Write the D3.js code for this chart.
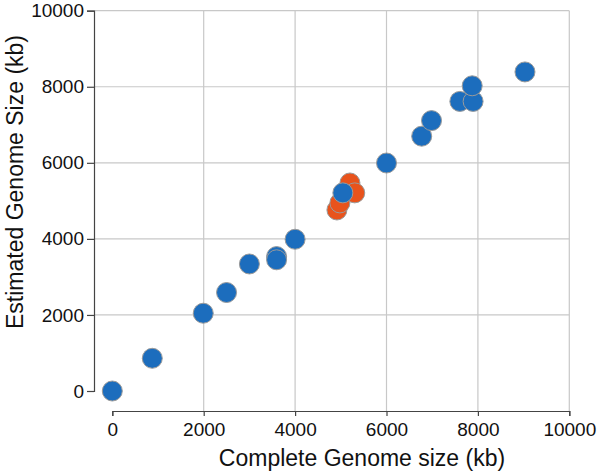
<!DOCTYPE html>
<html>
<head>
<meta charset="utf-8">
<script src="https://cdn.jsdelivr.net/npm/d3@7"></script>
<style>
  body { margin: 0; background: #fff; }
  svg text { font-family: "Liberation Sans", Arial, Helvetica, sans-serif; fill: #111; }
</style>
</head>
<body>
<div id="scatter"></div>
<script>
// Complete genome size vs estimated genome size (kb)
var blueComplete  = [0, 875, 1990, 2500, 3000, 3595, 3595, 4000, 6000, 6770, 6985, 7605, 7895, 7875, 9030, 5045];
var blueEstimated = [0, 860, 2045, 2590, 3340, 3535, 3450, 3990, 5995, 6700, 7110, 7615, 7615, 8025, 8390, 5210];

var orangeComplete  = [4915, 4980, 5200, 5305];
var orangeEstimated = [4760, 4945, 5470, 5210];

var xTicks = [0, 2000, 4000, 6000, 8000, 10000];
var yTicks = [0, 2000, 4000, 6000, 8000, 10000];

var svgWidth = 600;
var svgHeight = 472;

var svg = d3.select("#scatter")
  .append("svg")
  .attr("width", svgWidth)
  .attr("height", svgHeight);

var xScale = d3.scaleLinear()
  .domain([0, 10000])
  .range([112.3, 569.3]);

var yScale = d3.scaleLinear()
  .domain([0, 10000])
  .range([391, 10.7]);

// gridlines (no line at zero)
var grid = svg.append("g");
grid.selectAll("line.vgrid")
  .data(xTicks.filter(d => d > 0))
  .enter()
  .append("line")
  .attr("x1", d => xScale(d))
  .attr("x2", d => xScale(d))
  .attr("y1", yScale(10000))
  .attr("y2", 411)
  .attr("stroke", "#c8c8c8")
  .attr("stroke-width", 1.2);

grid.selectAll("line.hgrid")
  .data(yTicks.filter(d => d > 0))
  .enter()
  .append("line")
  .attr("x1", 94)
  .attr("x2", xScale(10000))
  .attr("y1", d => yScale(d))
  .attr("y2", d => yScale(d))
  .attr("stroke", "#c8c8c8")
  .attr("stroke-width", 1.2);

// axes
var xAxis = d3.axisBottom(xScale)
  .tickValues(xTicks)
  .tickFormat(d3.format("d"))
  .tickSizeOuter(0)
  .tickSize(5)
  .tickPadding(7);

var yAxis = d3.axisLeft(yScale)
  .tickValues(yTicks)
  .tickFormat(d3.format("d"))
  .tickSizeOuter(0)
  .tickSize(7)
  .tickPadding(3);

var xAxisGroup = svg.append("g")
  .attr("transform", "translate(0, 411)")
  .call(xAxis);

var yAxisGroup = svg.append("g")
  .attr("transform", "translate(94, 0)")
  .call(yAxis);

[xAxisGroup, yAxisGroup].forEach(function(g) {
  g.selectAll("path, line").attr("stroke", "#444").attr("stroke-width", 1.2);
  g.selectAll("text")
    .attr("font-size", "19px")
    .attr("font-family", "Liberation Sans, Arial, sans-serif")
    .attr("fill", "#111");
});

// axis titles
svg.append("text")
  .attr("x", 362)
  .attr("y", 466)
  .attr("text-anchor", "middle")
  .attr("font-size", "23px")
  .text("Complete Genome size (kb)");

svg.append("text")
  .attr("transform", "translate(22.5, 182) rotate(-90)")
  .attr("text-anchor", "middle")
  .attr("font-size", "23px")
  .text("Estimated Genome Size (kb)");

// points: orange first, blue drawn on top
var orangeData = orangeComplete.map((c, i) => ({ c: c, e: orangeEstimated[i] }));
var blueData = blueComplete.map((c, i) => ({ c: c, e: blueEstimated[i] }));

var circlesGroup = svg.append("g");

circlesGroup.selectAll("circle.orange")
  .data(orangeData)
  .enter()
  .append("circle")
  .attr("class", "orange")
  .attr("cx", d => xScale(d.c))
  .attr("cy", d => yScale(d.e))
  .attr("r", 10)
  .attr("fill", "#e8531c")
  .attr("stroke", "#9a9a9a")
  .attr("stroke-width", 1);

circlesGroup.selectAll("circle.blue")
  .data(blueData)
  .enter()
  .append("circle")
  .attr("class", "blue")
  .attr("cx", d => xScale(d.c))
  .attr("cy", d => yScale(d.e))
  .attr("r", 10)
  .attr("fill", "#1c6dbd")
  .attr("stroke", "#9a9a9a")
  .attr("stroke-width", 1);
</script>
</body>
</html>
